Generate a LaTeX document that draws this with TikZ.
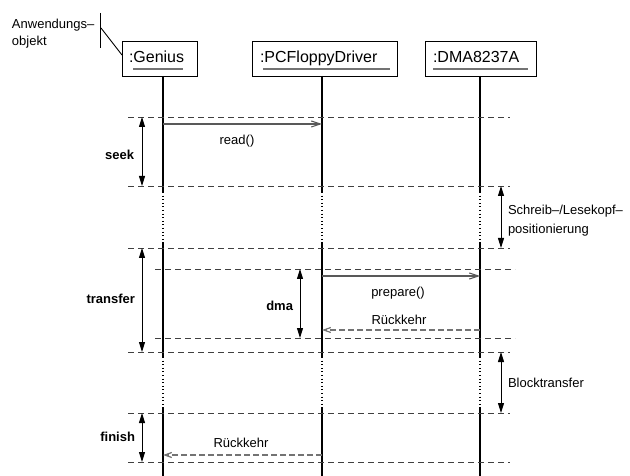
\documentclass[tikz,border=0pt]{standalone}
\usepackage{fontspec}
\setmainfont{Liberation Sans}
\usetikzlibrary{arrows.meta}
\begin{document}
\begin{tikzpicture}[x=1pt,y=-1pt,
  every node/.style={font=\fontsize{13}{15}\selectfont, inner sep=0pt, outer sep=0pt},
  objbox/.style={draw=black, line width=0.9pt, minimum height=35pt, anchor=north west, inner sep=0pt},
  objname/.style={font=\fontsize{16}{18}\selectfont, anchor=base west},
  uline/.style={draw=black!55, line width=1.8pt},
  life/.style={line width=1.3pt, black},
  lifedot/.style={line width=1.1pt, black, dash pattern=on 1pt off 2.6pt},
  phase/.style={line width=0.8pt, black!75, dash pattern=on 6pt off 4pt},
  msg/.style={line width=1.1pt, black!65, -{Straight Barb[length=9pt,width=6pt]}},
  reply/.style={line width=1.2pt, black!55, dash pattern=on 6pt off 3pt, -{Straight Barb[length=7pt,width=5pt]}},
  span/.style={line width=0.9pt, black, {Triangle[length=10pt,width=6pt]}-{Triangle[length=10pt,width=6pt]}},
  phaselbl/.style={font=\fontsize{13}{15}\selectfont\bfseries, anchor=east},
  sidelbl/.style={anchor=base west},
  note/.style={line width=0.9pt, black},
]
\useasboundingbox (0,0) rectangle (630,476);

% object boxes with underlined names
\node[objbox, minimum width=75pt]  (genius) at (122,41) {};
\node[objbox, minimum width=145pt] (floppy) at (252,41) {};
\node[objbox, minimum width=111pt] (dma)    at (425,41) {};
\node[objname] (genius-t) at (129,63) {:Genius};
\node[objname] (floppy-t) at (260,63) {:PCFloppyDriver};
\node[objname] (dma-t)    at (433,63) {:DMA8237A};
\draw[uline] (133,69) -- (183,69);
\draw[uline] (263,69) -- (390,69);
\draw[uline] (433,69) -- (528,69);

% annotation for the application object
\node[anchor=base west] (anno1) at (12,29) {Anwendungs–};
\node[anchor=base west] (anno2) at (12,46) {objekt};
\coordinate (bar-top) at (100,13);
\coordinate (bar-bot) at (100,48);
\coordinate (bar-j)   at (101,28);
\coordinate (box-j)   at (122,55);
\draw[note] (bar-top) -- (bar-bot);
\draw[note] (bar-j) -- (box-j);

% lifelines: active (solid) and waiting (dotted) stretches
\foreach \n/\x in {g/163, p/322, d/480} {
  \coordinate (\n-0) at (\x,76);
  \coordinate (\n-1) at (\x,192);
  \coordinate (\n-2) at (\x,243);
  \coordinate (\n-3) at (\x,357);
  \coordinate (\n-4) at (\x,407);
  \coordinate (\n-5) at (\x,476);
  \draw[life]    (\n-0) -- (\n-1);
  \draw[lifedot] (\n-1) -- (\n-2);
  \draw[life]    (\n-2) -- (\n-3);
  \draw[lifedot] (\n-3) -- (\n-4);
  \draw[life]    (\n-4) -- (\n-5);
}

% phase boundaries
\foreach \k/\y in {1/117, 2/186, 3/248, 4/352, 5/413, 6/462} {
  \coordinate (h\k l) at (128,\y);
  \coordinate (h\k r) at (510,\y);
  \draw[phase] (h\k l) -- (h\k r);
}
\foreach \k/\y in {a/269, b/338} {
  \coordinate (dm\k l) at (155,\y);
  \coordinate (dm\k r) at (515,\y);
  \draw[phase] (dm\k l) -- (dm\k r);
}

% messages
\coordinate (read-s) at (163,124);
\coordinate (read-e) at (322,124);
\draw[msg] (read-s) -- (read-e);
\node (read-l) at (237,141) {read()};

\coordinate (prep-s) at (322,276);
\coordinate (prep-e) at (480,276);
\draw[msg] (prep-s) -- (prep-e);
\node (prep-l) at (398,293) {prepare()};

\coordinate (ret1-s) at (480,330);
\coordinate (ret1-e) at (322,330);
\draw[reply] (ret1-s) -- (ret1-e);
\node (ret1-l) at (399,320) {Rückkehr};

\coordinate (ret2-s) at (322,455);
\coordinate (ret2-e) at (163,455);
\draw[reply] (ret2-s) -- (ret2-e);
\node (ret2-l) at (241,443) {Rückkehr};

% phase spans
\coordinate (seek-t) at (142,117);  \coordinate (seek-b) at (142,186);
\coordinate (trans-t) at (142,248); \coordinate (trans-b) at (142,352);
\coordinate (fin-t) at (142,413);   \coordinate (fin-b) at (142,462);
\coordinate (dmas-t) at (300,269);  \coordinate (dmas-b) at (300,338);
\coordinate (pos-t) at (501,186);   \coordinate (pos-b) at (501,248);
\coordinate (blk-t) at (501,352);   \coordinate (blk-b) at (501,413);
\draw[span] (seek-t) -- (seek-b);
\draw[span] (trans-t) -- (trans-b);
\draw[span] (fin-t) -- (fin-b);
\draw[span] (dmas-t) -- (dmas-b);
\draw[span] (pos-t) -- (pos-b);
\draw[span] (blk-t) -- (blk-b);

\node[phaselbl] (seek-l)  at (134,155) {seek};
\node[phaselbl] (trans-l) at (135,299) {transfer};
\node[phaselbl] (dma-l)   at (293,306) {dma};
\node[phaselbl] (fin-l)   at (135,437) {finish};
\node[sidelbl] (pos-l1) at (508,215) {Schreib–/Lesekopf–};
\node[sidelbl] (pos-l2) at (508,234) {positionierung};
\node[sidelbl] (blk-l)  at (508,387) {Blocktransfer};
\end{tikzpicture}
\end{document}
